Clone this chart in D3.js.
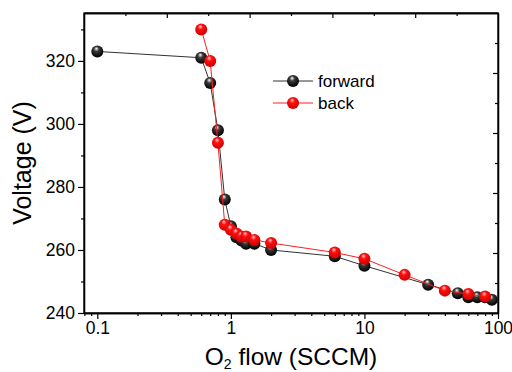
<!DOCTYPE html>
<html><head><meta charset="utf-8">
<script src="https://cdn.jsdelivr.net/npm/d3@7"></script>
<style>body{margin:0;background:#fff}svg{display:block}text{font-family:"Liberation Sans",Arial,sans-serif;fill:#000}</style>
</head><body><svg id="c" width="512" height="372"></svg>
<script>
const forwardFlow = [0.1, 0.6, 0.7, 0.8, 0.9, 1.0, 1.1, 1.2, 1.3, 1.5, 2, 6, 10, 30, 50, 60, 70, 80, 90];
const forwardVolt = [323, 321, 313, 298, 276, 267.5, 264, 263, 262, 262, 260, 258, 255, 249, 246.3, 245, 245, 245, 244.2];
const backFlow = [0.6, 0.7, 0.8, 0.9, 1.0, 1.1, 1.2, 1.3, 1.5, 2, 6, 10, 20, 40, 60, 80];
const backVolt = [330, 320, 294, 268, 266.4, 265.2, 264.3, 264.3, 263.2, 262.2, 259.2, 257.2, 252.1, 247.1, 246, 245.2];
const xTicks = [0.1, 1, 10, 100];
const xTickLabels = ["0.1", "1", "10", "100"];
const yTicks = [240, 260, 280, 300, 320];
const seriesNames = ["forward", "back"];

const svg = d3.select("#c");
const L = 84, R = 498, T = 13, B = 313;
const x = d3.scaleLog().domain([0.0795, 100]).range([L, R]);
const y = d3.scaleLinear().domain([240, 335.2]).range([B, T]);

const defs = svg.append("defs");
function grad(id, c0, c1, c2) {
  const g = defs.append("radialGradient").attr("id", id).attr("cx", "45%").attr("cy", "40%").attr("r", "60%").attr("fx", "42%").attr("fy", "25%");
  g.append("stop").attr("offset", "0%").attr("stop-color", c0);
  g.append("stop").attr("offset", "35%").attr("stop-color", c1);
  g.append("stop").attr("offset", "100%").attr("stop-color", c2);
}
grad("gk", "#ffffff", "#3a3a3a", "#000000");
grad("gr", "#ffd0d0", "#ff1010", "#d00000");

const minorX = [];
for (const d of [0.01, 0.1, 1, 10]) for (let k = 2; k <= 9; k++) { const v = d * k; if (v >= 0.0795 && v <= 100) minorX.push(v); }

const gB = svg.append("g").attr("transform", `translate(0,${B})`);
gB.call(d3.axisBottom(x).tickValues(xTicks).tickFormat((d, i) => xTickLabels[i]).tickSize(6).tickSizeOuter(0).tickPadding(3));
gB.append("g").call(d3.axisBottom(x).tickValues(minorX).tickFormat("").tickSize(3).tickSizeOuter(0));
const gL = svg.append("g").attr("transform", `translate(${L},0)`);
gL.call(d3.axisLeft(y).tickValues(yTicks).tickSize(6).tickSizeOuter(0).tickPadding(3));
gL.append("g").call(d3.axisLeft(y).tickValues([250, 270, 290, 310, 330]).tickFormat("").tickSize(3).tickSizeOuter(0));
const xt = d3.scaleLinear().domain([0, 10]).range([L, R]);
const yr = d3.scaleLinear().domain([0, 10]).range([B, T]);
const gT = svg.append("g").attr("transform", `translate(0,${T})`);
gT.call(d3.axisBottom(xt).tickValues([2, 4, 6, 8]).tickFormat("").tickSize(5).tickSizeOuter(0));
gT.append("g").call(d3.axisBottom(xt).tickValues([1, 3, 5, 7, 9]).tickFormat("").tickSize(3).tickSizeOuter(0));
const gR = svg.append("g").attr("transform", `translate(${R},0)`);
gR.call(d3.axisLeft(yr).tickValues([2, 4, 6, 8]).tickFormat("").tickSize(5).tickSizeOuter(0));
gR.append("g").call(d3.axisLeft(yr).tickValues([1, 3, 5, 7, 9]).tickFormat("").tickSize(3).tickSizeOuter(0));
svg.selectAll(".domain").attr("stroke", "#000").attr("stroke-width", 1.3);
svg.selectAll(".tick line").attr("stroke", "#000").attr("stroke-width", 1.2);
svg.selectAll(".tick text").style("font-size", "17.5px").attr("fill", "#000");
svg.append("rect").attr("x", L).attr("y", T).attr("width", R - L).attr("height", B - T).attr("fill", "none").attr("stroke", "#000").attr("stroke-width", 1.3);

const line = d3.line().x(d => x(d[0])).y(d => y(d[1]));
const fw = forwardFlow.map((f, i) => [f, forwardVolt[i]]);
const bk = backFlow.map((f, i) => [f, backVolt[i]]);
const plot = svg.append("g");
function series(data, stroke, fill) {
  plot.append("path").datum(data).attr("d", line).attr("fill", "none").attr("stroke", stroke).attr("stroke-width", 1);
  plot.selectAll(null).data(data).enter().append("circle").attr("cx", d => x(d[0])).attr("cy", d => y(d[1])).attr("r", 6).attr("fill", fill);
}
series(fw, "#333", "url(#gk)");
series(bk, "#ff2020", "url(#gr)");

const leg = svg.append("g");
[["#333", "url(#gk)", 81], ["#ff2020", "url(#gr)", 103]].forEach((s, i) => {
  leg.append("line").attr("x1", 273).attr("x2", 313).attr("y1", s[2]).attr("y2", s[2]).attr("stroke", s[0]).attr("stroke-width", 1);
  leg.append("circle").attr("cx", 293).attr("cy", s[2]).attr("r", 6).attr("fill", s[1]);
  leg.append("text").attr("x", 318).attr("y", s[2] + 6).style("font-size", "17px").text(seriesNames[i]);
});

const xt1 = svg.append("text").attr("x", 291).attr("y", 365).attr("text-anchor", "middle").style("font-size", "24.5px");
xt1.append("tspan").text("O");
xt1.append("tspan").attr("dy", 4).style("font-size", "14px").text("2");
xt1.append("tspan").attr("dy", -4).text(" flow (SCCM)");
svg.append("text").attr("transform", "translate(31,163) rotate(-90)").attr("text-anchor", "middle").style("font-size", "25px").text("Voltage (V)");
</script></body></html>
